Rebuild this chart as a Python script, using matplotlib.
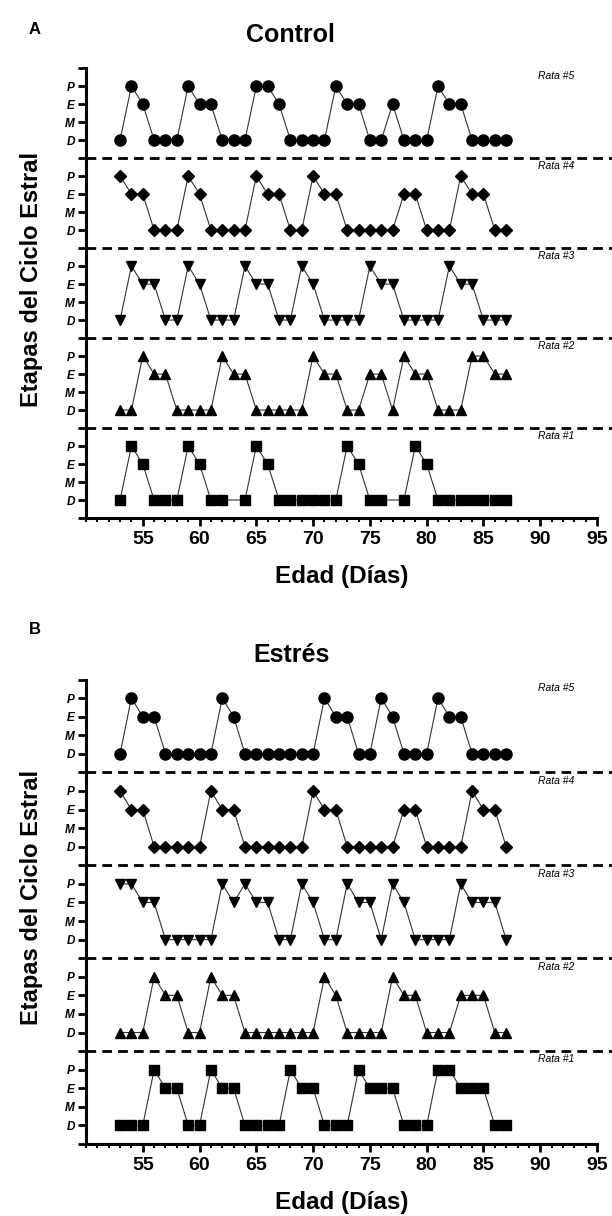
import matplotlib.pyplot as plt
import numpy as np
from matplotlib.ticker import MultipleLocator

plt.rcParams['font.family'] = ['Liberation Sans', 'DejaVu Sans']

days = np.arange(53, 88)
stage_labels = ['D', 'M', 'E', 'P']   # D=0, M=1, E=2, P=3
nan = np.nan

# Control group, rats #1..#5
control = {
    1: [0, 3, 2, 0, 0, 0, 3, 2, 0, 0, nan, 0, 3, 2, 0, 0, 0, 0, 0, 0, 3, 2, 0, 0, nan,
        0, 3, 2, 0, 0, 0, 0, 0, 0, 0],
    2: [0, 0, 3, 2, 2, 0, 0, 0, 0, 3, 2, 2, 0, 0, 0, 0, 0, 3, 2, 2, 0, 0, 2, 2, 0,
        3, 2, 2, 0, 0, 0, 3, 3, 2, 2],
    3: [0, 3, 2, 2, 0, 0, 3, 2, 0, 0, 0, 3, 2, 2, 0, 0, 3, 2, 0, 0, 0, 0, 3, 2, 2,
        0, 0, 0, 0, 3, 2, 2, 0, 0, 0],
    4: [3, 2, 2, 0, 0, 0, 3, 2, 0, 0, 0, 0, 3, 2, 2, 0, 0, 3, 2, 2, 0, 0, 0, 0, 0,
        2, 2, 0, 0, 0, 3, 2, 2, 0, 0],
    5: [0, 3, 2, 0, 0, 0, 3, 2, 2, 0, 0, 0, 3, 3, 2, 0, 0, 0, 0, 3, 2, 2, 0, 0, 2,
        0, 0, 0, 3, 2, 2, 0, 0, 0, 0],
}

# Stress group, rats #1..#5
stress = {
    1: [0, 0, 0, 3, 2, 2, 0, 0, 3, 2, 2, 0, 0, 0, 0, 3, 2, 2, 0, 0, 0, 3, 2, 2, 2,
        0, 0, 0, 3, 3, 2, 2, 2, 0, 0],
    2: [0, 0, 0, 3, 2, 2, 0, 0, 3, 2, 2, 0, 0, 0, 0, 0, 0, 0, 3, 2, 0, 0, 0, 0, 3,
        2, 2, 0, 0, 0, 2, 2, 2, 0, 0],
    3: [3, 3, 2, 2, 0, 0, 0, 0, 0, 3, 2, 3, 2, 2, 0, 0, 3, 2, 0, 0, 3, 2, 2, 0, 3,
        2, 0, 0, 0, 0, 3, 2, 2, 2, 0],
    4: [3, 2, 2, 0, 0, 0, 0, 0, 3, 2, 2, 0, 0, 0, 0, 0, 0, 3, 2, 2, 0, 0, 0, 0, 0,
        2, 2, 0, 0, 0, 0, 3, 2, 2, 0],
    5: [0, 3, 2, 2, 0, 0, 0, 0, 0, 3, 2, 0, 0, 0, 0, 0, 0, 0, 3, 2, 2, 0, 0, 3, 2,
        0, 0, 0, 3, 2, 2, 0, 0, 0, 0],
}

markers = {1: 's', 2: '^', 3: 'v', 4: 'D', 5: 'o'}
msizes = {1: 7, 2: 7.5, 3: 7.5, 4: 6, 5: 8}


def draw_panel(ax, data):
    for rat in range(1, 6):
        base = (rat - 1) * 5
        vals = np.array(data[rat], dtype=float)
        ok = np.isfinite(vals)
        ax.plot(days[ok], vals[ok] + base, color='#333333', lw=0.8,
                marker=markers[rat], ms=msizes[rat], mfc='black', mec='black',
                clip_on=False, zorder=3)
        ax.text(93, base + 3.55, 'Rata #%d' % rat, style='italic', fontsize=7.5,
                ha='right', va='center')
        if rat < 5:
            ax.plot([50, 96.3], [base + 4, base + 4], color='black', lw=2,
                    ls=(0, (3.5, 2.2)), clip_on=False, zorder=2)

    ax.set_xlim(50, 95)
    ax.set_ylim(-1, 24)

    yt = [-1]
    ylab = ['-']
    for rat in range(1, 6):
        base = (rat - 1) * 5
        yt += [base, base + 1, base + 2, base + 3, base + 4]
        ylab += stage_labels + ['']
    ax.set_yticks(yt)
    ax.set_yticklabels(ylab, fontsize=8.5, fontweight='bold', style='italic')
    ax.get_yticklabels()[0].set_color('#bbbbbb')
    ax.get_yticklabels()[0].set_fontsize(6)

    ax.set_xticks(np.arange(55, 96, 5))
    ax.xaxis.set_minor_locator(MultipleLocator(1))
    ax.tick_params(axis='x', which='major', labelsize=14, width=2, length=6)
    ax.tick_params(axis='x', which='minor', width=1.5, length=3)
    ax.tick_params(axis='y', width=2, length=6, pad=2)
    for lab in ax.get_xticklabels():
        lab.set_fontweight('bold')

    for s in ['top', 'right']:
        ax.spines[s].set_visible(False)
    ax.spines['left'].set_linewidth(2.2)
    ax.spines['bottom'].set_linewidth(2.2)

    ax.set_xlabel('Edad (Días)', fontsize=17.5, fontweight='bold', labelpad=12)
    ax.set_ylabel('Etapas del Ciclo Estral', fontsize=17, fontweight='bold')
    ax.yaxis.set_label_coords(-0.085, 0.53)


fig = plt.figure(figsize=(6.12, 12.16), dpi=100)
ax_a = fig.add_axes([0.1405, 0.574, 0.835, 0.370])
ax_b = fig.add_axes([0.1405, 0.0592, 0.835, 0.382])

draw_panel(ax_a, control)
draw_panel(ax_b, stress)

fig.text(35 / 612, 1 - 30 / 1216, 'A', fontsize=12, fontweight='bold',
         ha='center', va='center')
fig.text(290 / 612, 1 - 35 / 1216, 'Control', fontsize=18, fontweight='bold',
         ha='center', va='center')
fig.text(35 / 612, 1 - 630 / 1216, 'B', fontsize=12, fontweight='bold',
         ha='center', va='center')
fig.text(292 / 612, 1 - 655 / 1216, 'Estrés', fontsize=18, fontweight='bold',
         ha='center', va='center')

fig.savefig('out.png', dpi=100)
